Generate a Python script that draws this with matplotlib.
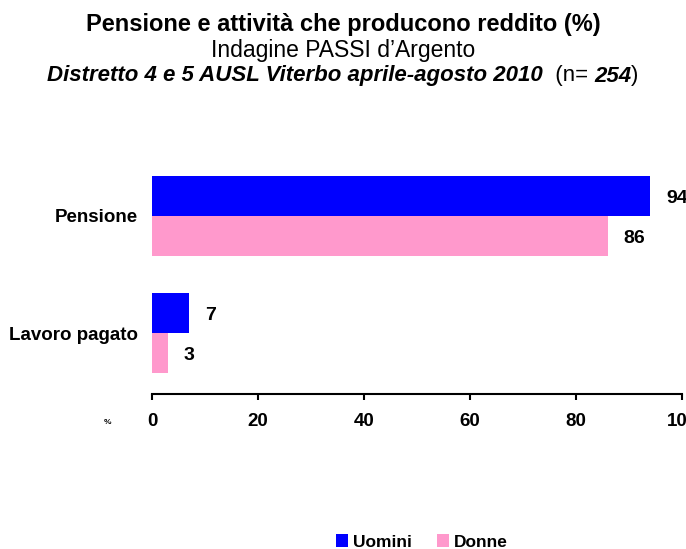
import matplotlib.pyplot as plt
import numpy as np

plt.rcParams['font.family'] = ['Liberation Sans', 'DejaVu Sans']

# Data
categories = ['Lavoro pagato', 'Pensione']
uomini = [7, 94]
donne = [3, 86]
series_names = ['Uomini', 'Donne']
colors = ['#0000FF', '#FF99CC']
xticks = [0, 20, 40, 60, 80, 100]

fig = plt.figure(figsize=(6.86, 5.49), dpi=100)
ax = fig.add_axes([0.2216, 0.2823, 0.7726, 0.4354])

y = np.arange(len(categories))
h = 0.34
bars_u = ax.barh(y + h / 2, uomini, height=h, color=colors[0], label=series_names[0])
bars_d = ax.barh(y - h / 2, donne, height=h, color=colors[1], label=series_names[1])

# value labels to the right of each bar
for bars, vals in [(bars_u, uomini), (bars_d, donne)]:
    for b, v in zip(bars, vals):
        ax.text(v + 3.0, b.get_y() + b.get_height() / 2 - 0.02, str(v),
                ha='left', va='center', fontsize=14, fontweight='bold',
                clip_on=False)

ax.set_xlim(0, 100)
ax.set_ylim(-0.52, 1.52)
ax.set_yticks(y)
ax.set_yticklabels(categories, fontsize=13.5, fontweight='bold')
ax.set_xticks(xticks)
ax.set_xticklabels([str(t) for t in xticks], fontsize=13.5, fontweight='bold')
ax.tick_params(axis='y', length=0, pad=10)
ax.tick_params(axis='x', length=4.5, width=1.5, pad=9, direction='out')
for side in ['top', 'right', 'left']:
    ax.spines[side].set_visible(False)
ax.spines['bottom'].set_linewidth(1.5)

fig.text(107 / 686, 1 - 423 / 549, '%', fontsize=6, fontweight='bold',
         ha='center', va='center')

# titles
fig.text(0.5, 1 - 25 / 549, 'Pensione e attività che producono reddito (%)',
         fontsize=17, fontweight='bold', ha='center', va='center')
fig.text(0.5, 1 - 50 / 549, 'Indagine PASSI d\u2019Argento',
         fontsize=16.5, ha='center', va='center')

# third title line built from pieces with different styles
pieces = [
    ('Distretto 4 e 5 AUSL Viterbo aprile-agosto 2010', 'bold', 'italic'),
    ('  (n= ', 'normal', 'normal'),
    ('254', 'bold', 'italic'),
    (')', 'normal', 'normal'),
]
renderer = fig.canvas.get_renderer()
texts = []
for s, w, st in pieces:
    t = fig.text(0, 1 - 76 / 549, s, fontsize=16, fontweight=w, fontstyle=st,
                 ha='left', va='center')
    texts.append(t)
widths = [t.get_window_extent(renderer).width for t in texts]
x0 = (686 - sum(widths)) / 2
for t, w in zip(texts, widths):
    t.set_x(x0 / 686)
    x0 += w

leg = fig.legend(handles=[bars_u, bars_d], labels=series_names, loc='center',
                 bbox_to_anchor=(422 / 686, 1 - 542 / 549), ncol=2, frameon=False,
                 handlelength=0.7, handleheight=0.7, handletextpad=0.3,
                 columnspacing=1.4, prop={'weight': 'bold', 'size': 12.5})

fig.savefig('out.png', dpi=100)
